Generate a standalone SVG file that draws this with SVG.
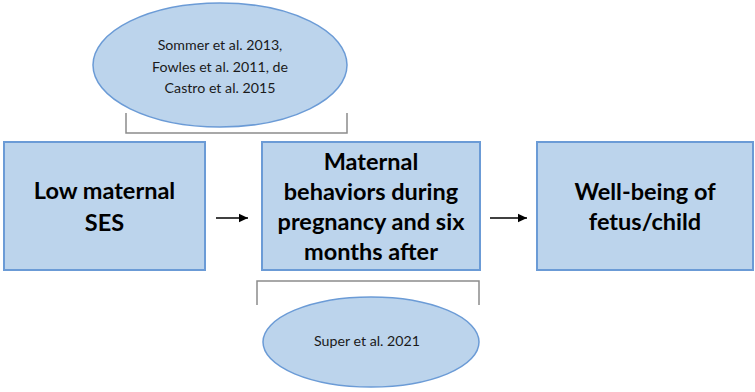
<svg xmlns="http://www.w3.org/2000/svg" width="755" height="392" viewBox="0 0 755 392">
  <defs>
    <style>
      .box { fill: #bcd4ec; stroke: #6b9bd6; stroke-width: 2; }
      .oval { fill: #bcd4ec; stroke: #6b9bd6; stroke-width: 1.5; }
      .bracket { fill: none; stroke: #8c8c8c; stroke-width: 1.5; }
      .head { font-family: "Lato", "Liberation Sans", sans-serif; font-weight: bold; font-size: 23.5px; fill: #000; text-anchor: middle; }
      .cite { font-family: "Lato", "Liberation Sans", sans-serif; font-size: 14.2px; fill: #1a1a1a; text-anchor: middle; }
      .arrow { stroke: #000; stroke-width: 1.5; fill: none; }
    </style>
    <marker id="tip" markerWidth="10" markerHeight="10" refX="9" refY="5" orient="auto" markerUnits="userSpaceOnUse">
      <path d="M0,0.8 L9,5 L0,9.2 Z" fill="#000"/>
    </marker>
  </defs>

  <rect width="755" height="392" fill="#ffffff"/>

  <!-- citation bubbles and their braces -->
  <g id="cite-top">
    <ellipse class="oval" cx="220" cy="65" rx="127" ry="62"/>
    <text class="cite" x="220" y="50">Sommer et al. 2013,</text>
    <text class="cite" x="220" y="72">Fowles et al. 2011, de</text>
    <text class="cite" x="220" y="93">Castro et al. 2015</text>
  </g>
  <g id="brace-top">
    <path class="bracket" d="M126,113 V133 H347 V113"/>
  </g>

  <g id="cite-bottom">
    <ellipse class="oval" cx="371" cy="342" rx="108" ry="45"/>
    <text class="cite" x="367" y="346">Super et al. 2021</text>
  </g>
  <g id="brace-bottom">
    <path class="bracket" d="M257,305 V281 H479 V305"/>
  </g>

  <!-- main chain -->
  <g id="ses">
    <rect class="box" x="4" y="142" width="201" height="128"/>
    <text class="head" x="104.5" y="199">Low maternal</text>
    <text class="head" x="104.5" y="231">SES</text>
  </g>

  <g id="behaviors">
    <rect class="box" x="262" y="142" width="218" height="128"/>
    <text class="head" x="371" y="170">Maternal</text>
    <text class="head" x="371" y="200">behaviors during</text>
    <text class="head" x="371" y="230">pregnancy and six</text>
    <text class="head" x="371" y="260">months after</text>
  </g>

  <g id="wellbeing">
    <rect class="box" x="537" y="142" width="216" height="128"/>
    <text class="head" x="645" y="200">Well-being of</text>
    <text class="head" x="645" y="230">fetus/child</text>
  </g>

  <g id="connectors">
    <line class="arrow" x1="216" y1="218" x2="248" y2="218" marker-end="url(#tip)"/>
    <line class="arrow" x1="490" y1="218" x2="527" y2="218" marker-end="url(#tip)"/>
  </g>
</svg>
